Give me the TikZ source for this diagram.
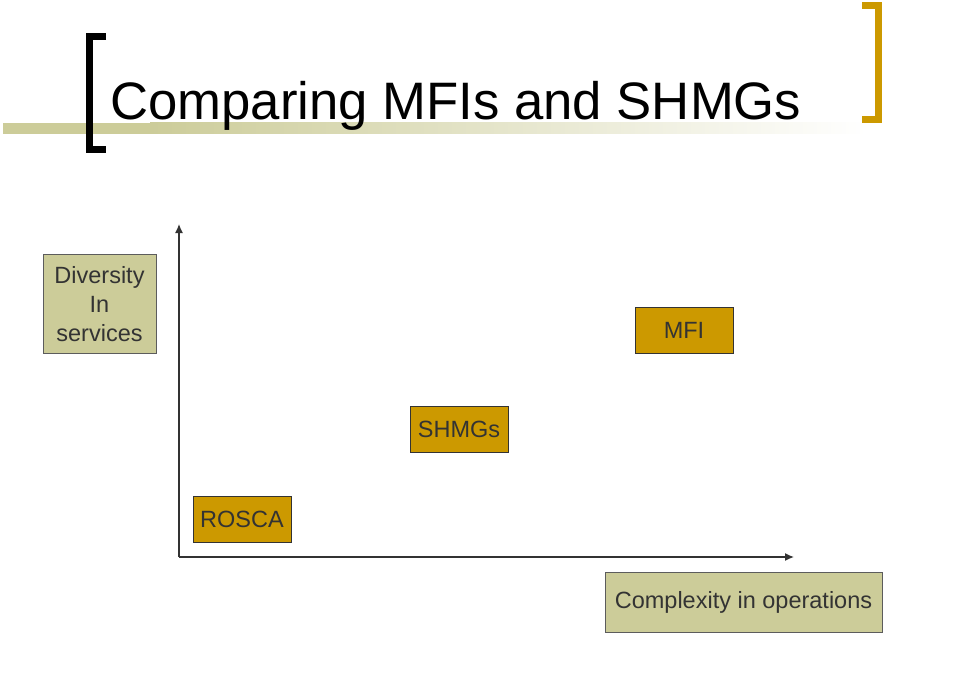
\documentclass[tikz,border=0pt]{standalone}
\usepackage{fontspec}
\setmainfont{Liberation Sans}
\usetikzlibrary{arrows.meta}

\definecolor{olive}{HTML}{CCCC99}
\definecolor{gold}{HTML}{CC9900}
\definecolor{ink}{HTML}{333333}

\tikzset{
	axis/.style={draw=ink, line width=1.3pt, -{Latex[length=9pt,width=8pt]}},
	label/.style={draw=ink!80, line width=1pt, fill=olive, text=ink, align=center, inner sep=0pt, font=\fontsize{23.5}{29}\selectfont},
	group/.style={draw=ink, line width=1pt, fill=gold, text=ink, inner sep=0pt, minimum width=98pt, minimum height=46pt, font=\fontsize{23.5}{29}\selectfont},
}

\begin{document}
\begin{tikzpicture}[x=1pt, y=-1pt]

	\useasboundingbox (0,0) rectangle (953,698);

	% title bar
	\fill [olive] (3,123) rectangle (150,134);
	\shade [left color=olive, right color=white] (150,123) rectangle (866,134);
	\draw [line width=7pt, miter limit=10] (106,36.5) -- (89.5,36.5) -- (89.5,149.5) -- (106,149.5);
	\draw [line width=7pt, gold, miter limit=10] (862,5.5) -- (878.5,5.5) -- (878.5,119.5) -- (862,119.5);
	\node [anchor=base west, inner sep=0pt, font=\fontsize{52.7}{60}\selectfont] (title) at (110,120) {Comparing MFIs and SHMGs};

	% axes
	\coordinate (origin) at (179,557);
	\coordinate (ytip) at (179,224);
	\coordinate (xtip) at (794,557);
	\draw [axis] (origin) -- (ytip);
	\draw [axis] (origin) -- (xtip);

	\node [label, minimum width=113pt, minimum height=99pt] (diversity) at (99.5,304) {Diversity\\In\\services};
	\node [label, minimum width=277pt, minimum height=60pt] (complexity) at (743.5,602) {Complexity in operations};

	\node [group] (rosca) at (242,519.5) {ROSCA};
	\node [group] (shmg) at (459,429) {SHMGs};
	\node [group] (mfi) at (684,330.5) {MFI};

\end{tikzpicture}
\end{document}
